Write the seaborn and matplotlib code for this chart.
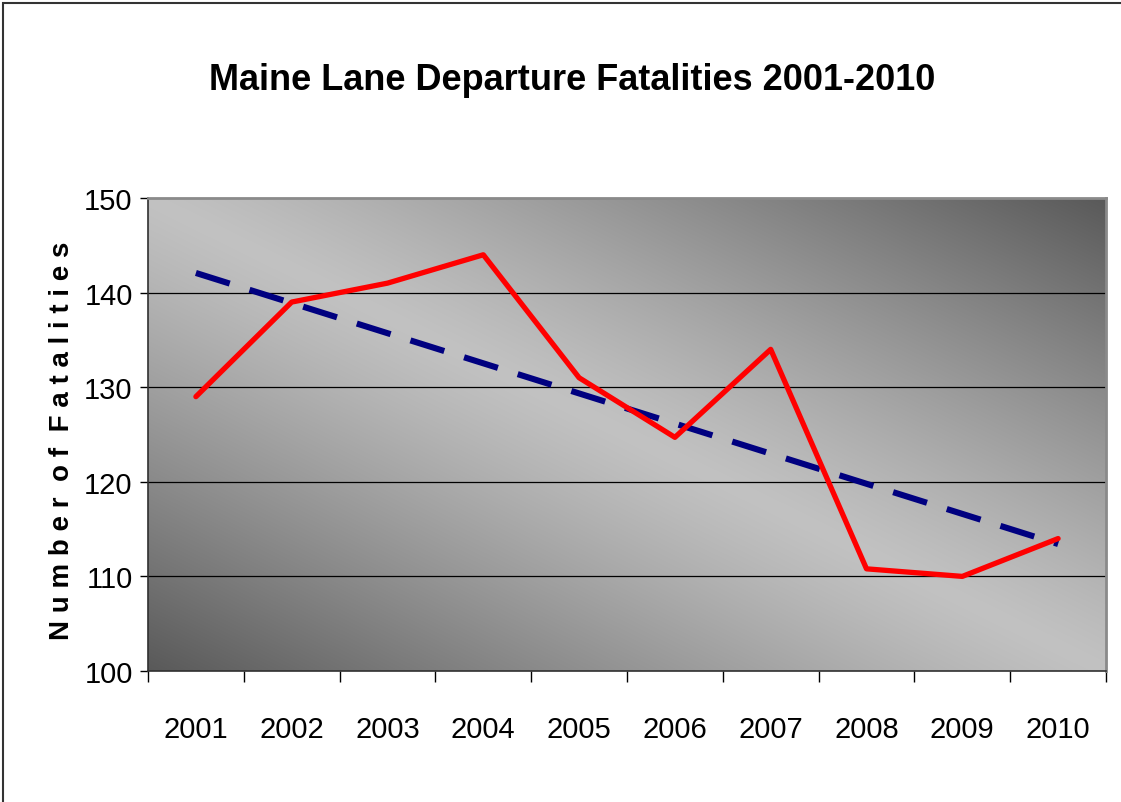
import numpy as np
import pandas as pd
import matplotlib
matplotlib.use("Agg")
import matplotlib.pyplot as plt
import seaborn as sns
from matplotlib.patches import Rectangle

# ---- data ----
years = [2001, 2002, 2003, 2004, 2005, 2006, 2007, 2008, 2009, 2010]
fatalities = [129, 139, 141, 144, 131, 124.7, 134, 110.8, 110, 114]
y_ticks = [100, 110, 120, 130, 140, 150]
title = "Maine Lane Departure Fatalities 2001-2010"
ylabel = "Number of Fatalities"

sns.set_theme(style="white")
plt.rcParams["font.family"] = ["Liberation Sans", "DejaVu Sans"]
plt.rcParams["lines.scale_dashes"] = True

df = pd.DataFrame({"year": years, "fatalities": fatalities})

fig = plt.figure(figsize=(11.21, 8.03), dpi=100)
ax = fig.add_axes([148 / 1121, 1 - 672 / 803, (1106 - 148) / 1121, (672 - 199) / 803])

# gradient background (diagonal, light centre band, dark corners)
W, H = 400, 200
xx = np.linspace(0, 1, W)[None, :]
yy = np.linspace(0, 1, H)[:, None]
s = np.abs(xx + yy - 1.0)
dark, light = 0.35, 0.76
val = light - (light - dark) * np.clip(s, 0, 1) ** 1.2
img = np.dstack([val, val, val])
ax.imshow(img, extent=(2000.5, 2010.5, 100, 150), origin="lower",
          aspect="auto", zorder=0, interpolation="bilinear")

# gridlines
for t in y_ticks[1:-1]:
    ax.axhline(t, color="black", lw=0.9, zorder=1)

# data line
sns.lineplot(data=df, x="year", y="fatalities", ax=ax, color="#FF0000",
             lw=3.8, zorder=3, solid_capstyle="round", solid_joinstyle="round")
# linear trend line
sns.regplot(data=df, x="year", y="fatalities", ax=ax, scatter=False, ci=None,
            truncate=True,
            line_kws=dict(color="#000080", lw=4.4, dashes=(5.8, 3.4), zorder=2,
                          dash_capstyle="butt"))

ax.set_xlim(2000.5, 2010.5)
ax.set_ylim(100, 150)
ax.set_yticks(y_ticks)
ax.set_yticklabels([str(t) for t in y_ticks])
ax.set_xticks(years)
ax.set_xticklabels([str(y) for y in years])
ax.set_xticks([y - 0.5 for y in years] + [years[-1] + 0.5], minor=True)
ax.tick_params(axis="x", which="major", length=0, pad=32, labelsize=21, colors="black")
ax.tick_params(axis="x", which="minor", length=8, width=1, color="black", direction="out", bottom=True)
ax.tick_params(axis="y", which="major", length=6, width=1, color="black", direction="out",
               left=True, pad=5, labelsize=21, labelcolor="black")
ax.set_xlabel("")
ax.set_ylabel(" ".join(ylabel).replace("   ", "  "), fontsize=20, fontweight="bold",
              labelpad=4, color="black")
ax.yaxis.set_label_coords(-73 / 958, 0.488)

for side in ["top", "right"]:
    ax.spines[side].set_visible(True)
    ax.spines[side].set_color("#8a8a8a")
    ax.spines[side].set_linewidth(2)
for side in ["left", "bottom"]:
    ax.spines[side].set_visible(True)
    ax.spines[side].set_color("#303030")
    ax.spines[side].set_linewidth(1.2)

fig.text(572 / 1121, 1 - 81 / 803, title, ha="center", va="center",
         fontsize=26, fontweight="bold", color="black")

# outer chart frame
fig.patches.append(Rectangle((3 / 1121, -0.05), 1.2, (803 - 4) / 803 + 0.05,
                             transform=fig.transFigure, fill=False,
                             edgecolor="#333333", lw=1.5, zorder=10))

fig.savefig("out.png", dpi=100, facecolor="white")
